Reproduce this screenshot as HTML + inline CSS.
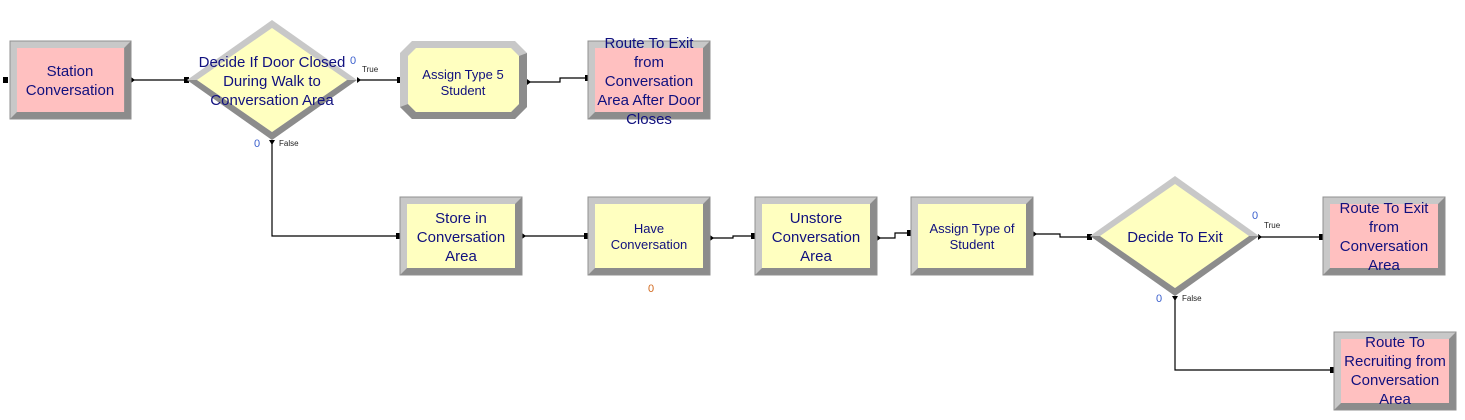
<!DOCTYPE html>
<html><head><style>
html,body{margin:0;padding:0;background:#fff;}
svg{display:block;}
text{font-family:"Liberation Sans",sans-serif;fill:#10107e;}
.b{font-size:15px;}
.s{font-size:13px;}
.l{font-size:8px;fill:#222;}
.c{font-size:11px;fill:#3a5fcd;}
</style></head><body>
<svg width="1465" height="420" viewBox="0 0 1465 420" xmlns="http://www.w3.org/2000/svg">
<defs>
<g id="bx">
<rect x="0" y="0" width="122" height="78" fill="#c8c8c8"/>
<polygon points="0,78 122,78 122,0 115,7 115,71 7,71" fill="#8c8c8c"/>
<rect x="0" y="0" width="122" height="78" fill="none" stroke="#909090" stroke-width="1"/>
</g>
</defs>
<g stroke="#000" stroke-width="1.2" fill="none">
<path d="M131 80 H187"/>
<path d="M357 80 H400"/>
<path d="M527 82 H560 V78 H588"/>
<path d="M272 140 V236 H400"/>
<path d="M522 236 H588"/>
<path d="M710 238 H733 V236 H755"/>
<path d="M877 238 H895 V233 H911"/>
<path d="M1033 234 H1060 V237 H1090"/>
<path d="M1258 237 H1323"/>
<path d="M1175 296 V370 H1334"/>
</g>
<g fill="#000">
<rect x="3" y="77" width="5" height="6"/>
<rect x="184" y="77" width="5" height="6"/>
<rect x="397" y="77" width="5" height="6"/>
<rect x="585" y="75" width="5" height="6"/>
<rect x="396" y="233" width="5" height="6"/>
<rect x="584" y="233" width="5" height="6"/>
<rect x="751" y="233" width="5" height="6"/>
<rect x="907" y="230" width="5" height="6"/>
<rect x="1087" y="234" width="5" height="6"/>
<rect x="1319" y="234" width="5" height="6"/>
<rect x="1330" y="367" width="5" height="6"/>
<polygon points="131,77 135,80 131,83"/>
<polygon points="357,77 361,80 357,83"/>
<polygon points="527,79 531,82 527,85"/>
<polygon points="522,233 526,236 522,239"/>
<polygon points="710,235 714,238 710,241"/>
<polygon points="877,235 881,238 877,241"/>
<polygon points="1033,231 1037,234 1033,237"/>
<polygon points="1258,234 1262,237 1258,240"/>
<polygon points="269,140 275,140 272,145"/>
<polygon points="1172,296 1178,296 1175,301"/>
</g>
<g transform="translate(10,41) scale(0.992,1)"><use href="#bx"/><rect x="7" y="7" width="108" height="64" fill="#ffc0c0"/></g>
<text class="b" text-anchor="middle"><tspan x="70" y="76">Station</tspan><tspan x="70" y="95">Conversation</tspan></text>
<polygon points="187,80 272,20 357,80 272,140" fill="#c8c8c8"/>
<polygon points="357,80 272,140 187,80 197,80 272,132 347,80" fill="#8c8c8c"/>
<polygon points="197,80 272,28 347,80 272,132" fill="#ffffc0"/>
<text class="b" text-anchor="middle"><tspan x="272" y="67">Decide If Door Closed</tspan><tspan x="272" y="86">During Walk to</tspan><tspan x="272" y="105">Conversation Area</tspan></text>
<text class="c" x="350" y="64">0</text>
<text class="l" x="362" y="72">True</text>
<text class="c" x="254" y="147">0</text>
<text class="l" x="279" y="146">False</text>
<polygon points="412,41 515,41 527,53 527,107 515,119 412,119 400,107 400,53" fill="#c8c8c8"/>
<polygon points="527,53 527,107 515,119 412,119 400,107 408,104 416,112 511,112 519,104 519,56" fill="#8c8c8c"/>
<polygon points="416,48 511,48 519,56 519,104 511,112 416,112 408,104 408,56" fill="#ffffc0"/>
<text class="s" text-anchor="middle"><tspan x="463" y="79">Assign Type 5</tspan><tspan x="463" y="95">Student</tspan></text>
<g transform="translate(588,41)"><use href="#bx"/><rect x="7" y="7" width="108" height="64" fill="#ffc0c0"/></g>
<text class="b" text-anchor="middle"><tspan x="649" y="48">Route To Exit</tspan><tspan x="649" y="67">from</tspan><tspan x="649" y="86">Conversation</tspan><tspan x="649" y="105">Area After Door</tspan><tspan x="649" y="124">Closes</tspan></text>
<g transform="translate(400,197)"><use href="#bx"/><rect x="7" y="7" width="108" height="64" fill="#ffffc0"/></g>
<text class="b" text-anchor="middle"><tspan x="461" y="223">Store in</tspan><tspan x="461" y="242">Conversation</tspan><tspan x="461" y="261">Area</tspan></text>
<g transform="translate(588,197)"><use href="#bx"/><rect x="7" y="7" width="108" height="64" fill="#ffffc0"/></g>
<text class="s" text-anchor="middle"><tspan x="649" y="233">Have</tspan><tspan x="649" y="249">Conversation</tspan></text>
<text class="c" x="648" y="292" style="fill:#d2691e">0</text>
<g transform="translate(755,197)"><use href="#bx"/><rect x="7" y="7" width="108" height="64" fill="#ffffc0"/></g>
<text class="b" text-anchor="middle"><tspan x="816" y="223">Unstore</tspan><tspan x="816" y="242">Conversation</tspan><tspan x="816" y="261">Area</tspan></text>
<g transform="translate(911,197)"><use href="#bx"/><rect x="7" y="7" width="108" height="64" fill="#ffffc0"/></g>
<text class="s" text-anchor="middle"><tspan x="972" y="233">Assign Type of</tspan><tspan x="972" y="249">Student</tspan></text>
<polygon points="1090,236 1175,176 1259,236 1175,296" fill="#c8c8c8"/>
<polygon points="1259,236 1175,296 1090,236 1100,236 1175,288 1249,236" fill="#8c8c8c"/>
<polygon points="1100,236 1175,184 1249,236 1175,288" fill="#ffffc0"/>
<text class="b" text-anchor="middle" x="1175" y="242">Decide To Exit</text>
<text class="c" x="1252" y="219">0</text>
<text class="l" x="1264" y="228">True</text>
<text class="c" x="1156" y="302">0</text>
<text class="l" x="1182" y="301">False</text>
<g transform="translate(1323,197)"><use href="#bx"/><rect x="7" y="7" width="108" height="64" fill="#ffc0c0"/></g>
<text class="b" text-anchor="middle"><tspan x="1384" y="213">Route To Exit</tspan><tspan x="1384" y="232">from</tspan><tspan x="1384" y="251">Conversation</tspan><tspan x="1384" y="270">Area</tspan></text>
<g transform="translate(1334,332)"><use href="#bx"/><rect x="7" y="7" width="108" height="64" fill="#ffc0c0"/></g>
<text class="b" text-anchor="middle"><tspan x="1395" y="347">Route To</tspan><tspan x="1395" y="366">Recruiting from</tspan><tspan x="1395" y="385">Conversation</tspan><tspan x="1395" y="404">Area</tspan></text>
</svg>
</body></html>
